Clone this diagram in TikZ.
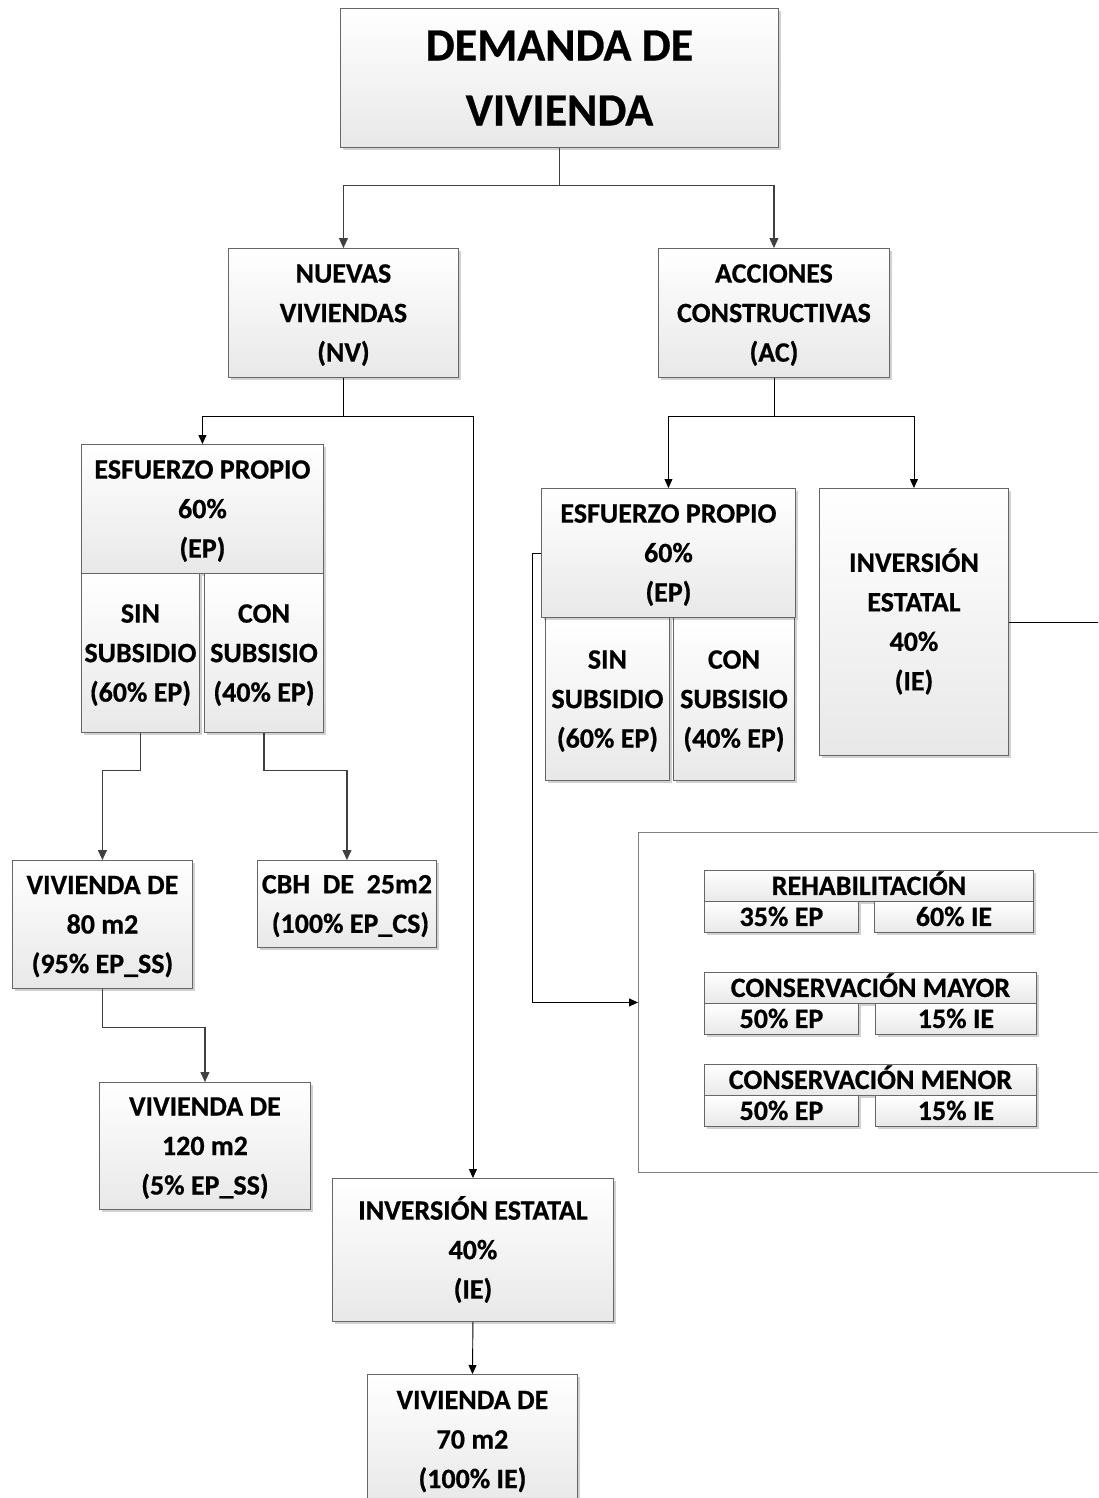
\documentclass[tikz,border=0pt]{standalone}
\usepackage{fontspec}
\setmainfont{Carlito}[BoldFeatures={FakeBold=0.6}]
\usetikzlibrary{arrows.meta,shadows}
\tikzset{
  box/.style={draw=black!60, line width=0.9pt, top color=white, bottom color=black!9,
    align=center, inner sep=0pt, anchor=north west, text depth=0pt,
    font=\bfseries\fontsize{28}{39.5}\selectfont,
    drop shadow={shadow xshift=2.5pt, shadow yshift=-2.5pt, fill=black, opacity=0.18}},
  bigtext/.style={font=\bfseries\fontsize{46}{65}\selectfont},
  cell/.style={box, text height=23pt, text depth=5pt, inner ysep=1.5pt},
  conn/.style={draw=black!75, line width=1.1pt},
  thinconn/.style={draw=black, line width=0.9pt},
  arr/.style={conn, -{Triangle[length=10pt,width=9pt]}},
  thinarr/.style={thinconn, -{Triangle[length=9pt,width=8pt]}},
  frame/.style={draw=black!50, line width=0.9pt, anchor=north west, inner sep=0pt, fill=white},
}
\begin{document}
\begin{tikzpicture}[x=1pt,y=-1pt]
\useasboundingbox (0,0) rectangle (1098,1498);
\fill[white] (0,0) rectangle (1098,1498);
\clip (0,0) rectangle (1098,1498);

% top level
\node[box,bigtext,minimum width=438pt,minimum height=139pt] (dem) at (340,8) {DEMANDA DE\\VIVIENDA};
\node[box,minimum width=230pt,minimum height=129pt] (nv) at (228,248) {NUEVAS\\VIVIENDAS\\(NV)};
\node[box,minimum width=231pt,minimum height=129pt] (ac) at (658,248) {ACCIONES\\CONSTRUCTIVAS\\(AC)};

% left branch
\node[box,minimum width=242pt,minimum height=129pt] (ep1) at (81,444) {ESFUERZO PROPIO\\60\%\\(EP)};
\node[box,minimum width=118pt,minimum height=159pt] (sin1) at (81,573) {SIN\\SUBSIDIO\\(60\% EP)};
\node[box,minimum width=119pt,minimum height=159pt] (con1) at (204,573) {CON\\SUBSISIO\\(40\% EP)};
\node[box,minimum width=180pt,minimum height=128pt] (v80) at (12,860) {VIVIENDA DE\\80 m2\\(95\% EP\_SS)};
\node[box,minimum width=179pt,minimum height=87pt] (cbh) at (257,860) {CBH\ \ DE\ \ 25m2\\\hspace*{7pt}(100\% EP\_CS)};
\node[box,minimum width=211pt,minimum height=127pt] (v120) at (99,1082) {VIVIENDA DE\\120 m2\\(5\% EP\_SS)};
\node[box,minimum width=281pt,minimum height=143pt] (ie1) at (332,1178) {INVERSI\smash{Ó}N ESTATAL\\40\%\\(IE)};
\node[box,minimum width=210pt,minimum height=130pt] (v70) at (367,1374) {VIVIENDA DE\\70 m2\\(100\% IE)};

% right branch
\node[box,minimum width=124pt,minimum height=163pt] (sin2) at (545,617) {SIN\\SUBSIDIO\\(60\% EP)};
\node[box,minimum width=121pt,minimum height=163pt] (con2) at (673,617) {CON\\SUBSISIO\\(40\% EP)};
\node[box,minimum width=254pt,minimum height=129pt] (ep2) at (541,488) {ESFUERZO PROPIO\\60\%\\(EP)};
\node[box,minimum width=189pt,minimum height=267pt] (ie2) at (819,488) {INVERSI\smash{Ó}N\\ESTATAL\\40\%\\(IE)};

% actions frame
\node[frame,minimum width=520pt,minimum height=340pt] (acbox) at (638,832) {};
\node[cell,minimum width=329pt,minimum height=31pt] (rh) at (704,870) {REHABILITACIÓN};
\node[cell,minimum width=154pt,minimum height=30pt] (rhep) at (704,901) {35\% EP};
\node[cell,minimum width=159pt,minimum height=30pt] (rhie) at (874,901) {60\% IE};
\node[cell,minimum width=332pt,minimum height=31pt] (cma) at (704,972) {CONSERVACIÓN MAYOR};
\node[cell,minimum width=154pt,minimum height=31pt] (cmaep) at (704,1003) {50\% EP};
\node[cell,minimum width=161pt,minimum height=31pt] (cmaie) at (875,1003) {15\% IE};
\node[cell,minimum width=332pt,minimum height=31pt] (cme) at (704,1064) {CONSERVACIÓN MENOR};
\node[cell,minimum width=154pt,minimum height=31pt] (cmeep) at (704,1095) {50\% EP};
\node[cell,minimum width=161pt,minimum height=31pt] (cmeie) at (875,1095) {15\% IE};

\coordinate (ieout) at (1110,621);

% connectors
\draw[conn] (dem.south) -- ++(0,38) coordinate (j1);
\draw[arr] (j1) -| (nv.north);
\draw[arr] (j1) -| (ac.north);

\draw[thinconn] (nv.south) -- ++(0,39) coordinate (j2);
\draw[thinarr] (j2) -| (ep1.north);
\draw[thinarr] (j2) -| (ie1.north);

\draw[thinconn] (ac.south) -- ++(0,39) coordinate (j3);
\draw[thinarr] (j3) -| (ep2.north);
\draw[thinarr] (j3) -| (ie2.north);

\draw[arr] (sin1.south) -- ++(0,38) -| (v80.north);
\draw[arr] (con1.south) -- ++(0,38) -| (cbh.north);
\draw[arr] (v80.south) -- ++(0,39) -| (v120.north);
\draw[thinarr] (ie1.south) -- (v70.north);

\draw[thinarr] (ep2.west) -- ++(-9,0) |- (acbox.west);
\draw[thinconn] (ie2.east) -- (ie2.east -| ieout);
\end{tikzpicture}
\end{document}
